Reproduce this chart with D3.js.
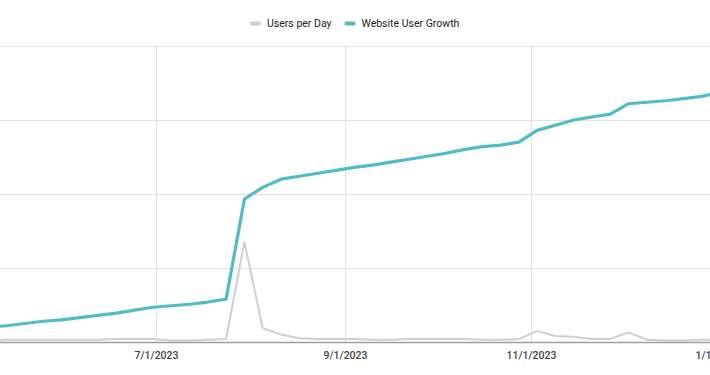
<!DOCTYPE html>
<html>
<head>
<meta charset="utf-8">
<script src="https://cdn.jsdelivr.net/npm/d3@7"></script>
<style>
  body { margin: 0; background: #fff; }
  svg { display: block; font-family: Roboto, "Noto Sans", sans-serif; }
</style>
</head>
<body>
<svg width="710" height="375"></svg>
<script>
// sample dates (every 6 days)
var dates = ["2023-05-07", "2023-05-13", "2023-05-19", "2023-05-25", "2023-05-31",
    "2023-06-06", "2023-06-12", "2023-06-18", "2023-06-24", "2023-06-30",
    "2023-07-06", "2023-07-12", "2023-07-18", "2023-07-24", "2023-07-30",
    "2023-08-05", "2023-08-11", "2023-08-17", "2023-08-23", "2023-08-29",
    "2023-09-04", "2023-09-10", "2023-09-16", "2023-09-22", "2023-09-28",
    "2023-10-04", "2023-10-10", "2023-10-16", "2023-10-22", "2023-10-28",
    "2023-11-03", "2023-11-09", "2023-11-15", "2023-11-21", "2023-11-27",
    "2023-12-03", "2023-12-09", "2023-12-15", "2023-12-21", "2023-12-27",
    "2024-01-02"];

var usersPerDay = [2, 3, 3, 3, 3, 3, 3, 4, 4, 4,
    2, 2, 3, 4, 135, 19, 10, 5, 4, 4,
    4, 3, 3, 4, 4, 4, 4, 3, 3, 4,
    15, 8, 7, 4, 4, 13, 3, 2, 2, 3,
    3];

var userGrowth = [20, 22, 25, 28, 30, 33, 36, 39, 43, 47,
    49, 51, 54, 58, 193, 209, 220, 224, 228, 232,
    236, 239, 243, 247, 251, 255, 260, 264, 266, 270,
    286, 293, 300, 304, 308, 322, 324, 326, 329, 332,
    337];

var xTicks = ["2023-07-01", "2023-09-01", "2023-11-01", "2024-01-01"];
var yTicks = [0, 100, 200, 300, 400];
var seriesNames = ["Users per Day", "Website User Growth"];
var colors = ["#cfcfcf", "#50bcc5"];

var svg = d3.select("svg"),
    width = 710,
    height = 375;

var parse = d3.utcParse("%Y-%m-%d");
var fmt = d3.utcFormat("%-m/%-d/%Y");

// plot area runs off both edges of the picture
var x = d3.scaleUtc()
    .domain([parse("2023-07-01"), parse("2023-11-01")])
    .range([156, 531]);

var y = d3.scaleLinear()
    .domain([0, 400])
    .range([342, 46]);

var xl = -60, xr = 780;

// horizontal grid
svg.append("g")
    .selectAll("line")
    .data(yTicks.slice(1))
    .enter().append("line")
    .attr("x1", xl).attr("x2", xr)
    .attr("y1", function(d) { return Math.round(y(d)) + 0.5; })
    .attr("y2", function(d) { return Math.round(y(d)) + 0.5; })
    .attr("stroke", "#e3e3e3")
    .attr("stroke-width", 1.2);

// vertical grid
svg.append("g")
    .selectAll("line")
    .data(xTicks)
    .enter().append("line")
    .attr("x1", function(d) { return Math.round(x(parse(d))) + 0.5; })
    .attr("x2", function(d) { return Math.round(x(parse(d))) + 0.5; })
    .attr("y1", y(400))
    .attr("y2", y(0))
    .attr("stroke", "#e3e3e3")
    .attr("stroke-width", 1.2);

// x axis labels
var xAxis = d3.axisBottom(x)
    .tickValues(xTicks.map(parse))
    .tickFormat(fmt)
    .tickSize(0)
    .tickPadding(10);

svg.append("g")
    .attr("transform", "translate(0," + y(0) + ")")
    .call(xAxis)
    .call(function(g) {
        g.select(".domain").remove();
        g.selectAll("text")
            .attr("fill", "#444")
            .style("font-size", "10.5px")
            .style("font-weight", "500")
            .style("font-family", "Roboto, sans-serif");
    });

var line = d3.line()
    .x(function(d, i) { return x(parse(dates[i])); })
    .y(function(d) { return y(d); });

svg.append("path")
    .datum(usersPerDay)
    .attr("d", line)
    .attr("fill", "none")
    .attr("stroke", colors[0])
    .attr("stroke-width", 2)
    .attr("stroke-linejoin", "round");

svg.append("path")
    .datum(userGrowth)
    .attr("d", line)
    .attr("fill", "none")
    .attr("stroke", colors[1])
    .attr("stroke-width", 3.2)
    .attr("stroke-linejoin", "round");

// baseline
svg.append("line")
    .attr("x1", xl).attr("x2", xr)
    .attr("y1", y(0) + 0.5).attr("y2", y(0) + 0.5)
    .attr("stroke", "#9e9e9e")
    .attr("stroke-width", 1.5);

// legend
var legend = svg.append("g").attr("transform", "translate(250,0)");
var lx = 0;
seriesNames.forEach(function(name, i) {
    legend.append("rect")
        .attr("x", lx).attr("y", 21.5)
        .attr("width", 11).attr("height", 4)
        .attr("rx", 1.5)
        .attr("fill", colors[i]);
    var t = legend.append("text")
        .attr("x", lx + 17).attr("y", 27)
        .attr("fill", "#222")
        .style("font-size", "10.5px")
        .text(name);
    lx += 17 + t.node().getComputedTextLength() + 13;
});
</script>
</body>
</html>
